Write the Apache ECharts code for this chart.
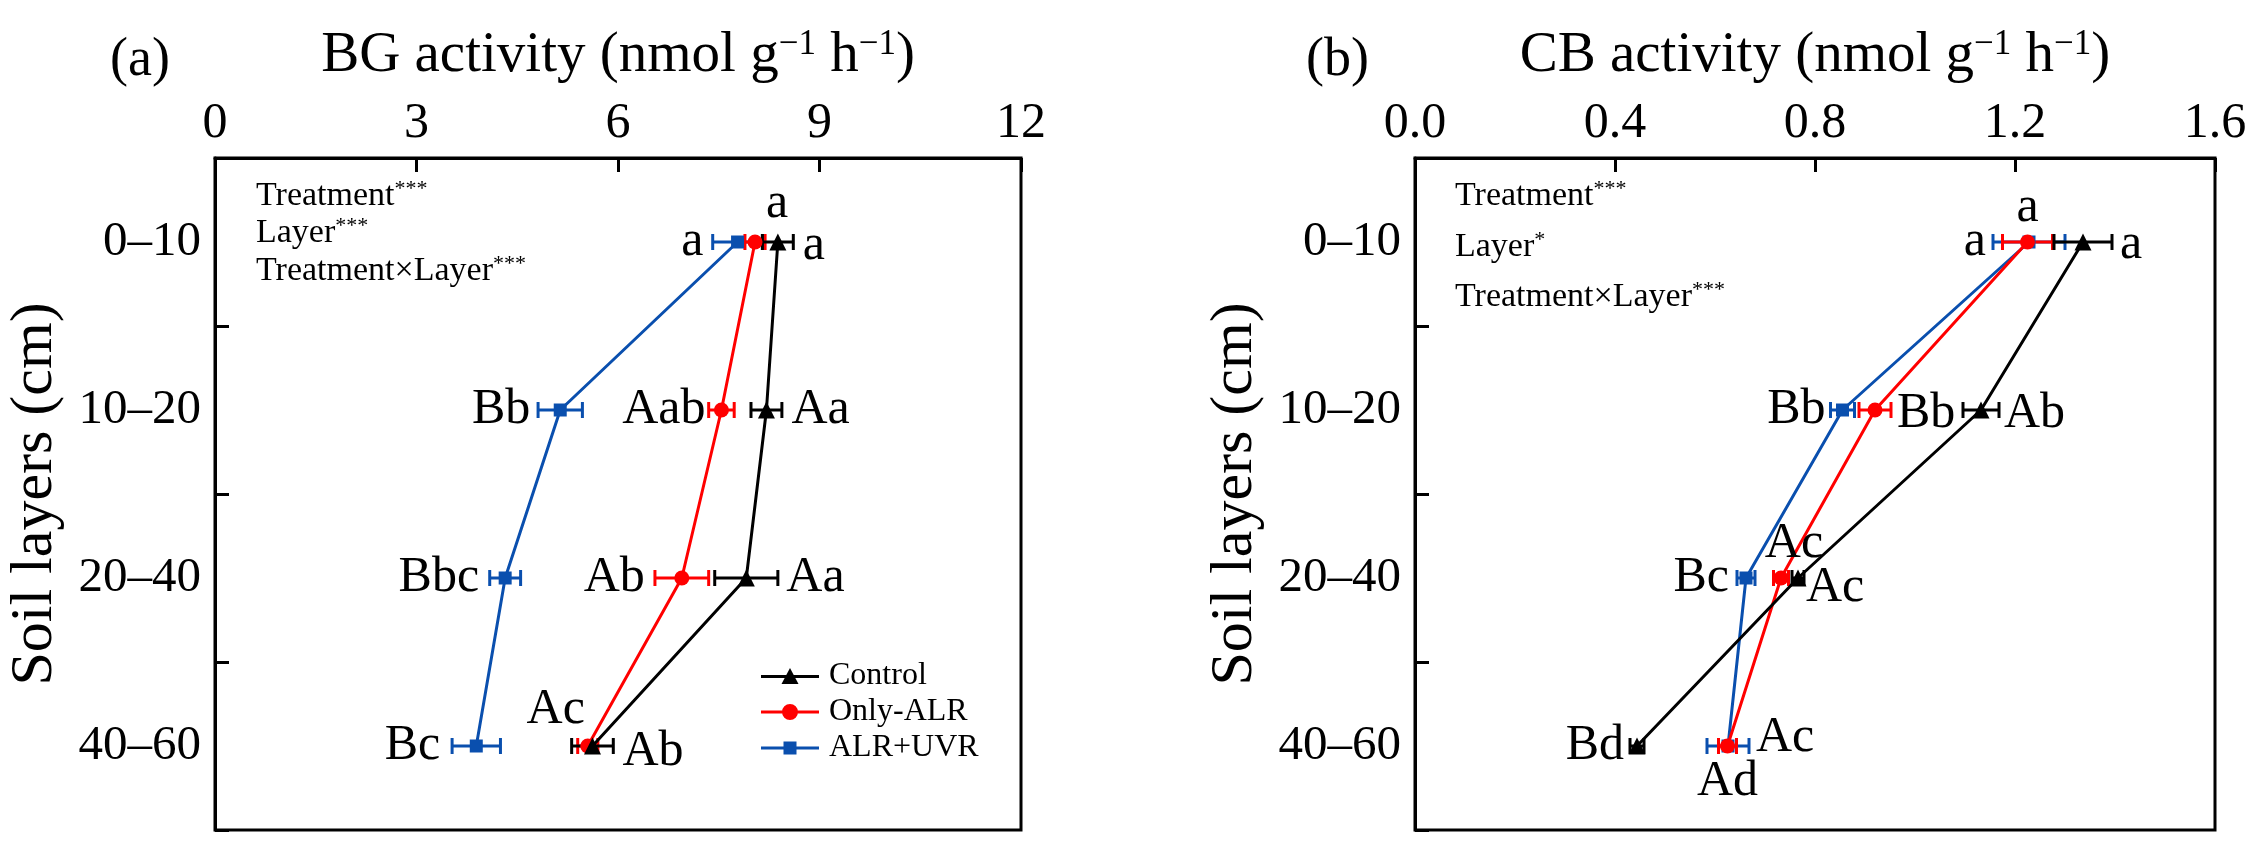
<!DOCTYPE html>
<html>
<head>
<meta charset="utf-8">
<script src="https://cdn.jsdelivr.net/npm/echarts@6/dist/echarts.min.js"></script>
<style>
html,body{margin:0;padding:0;background:#fff;}
#chart{width:2258px;height:846px;}
</style>
</head>
<body>
<div id="chart"></div>
<script>
// ---- data ----
const layers = ['0–10', '10–20', '20–40', '40–60'];
const seriesNames = ['Control', 'Only-ALR', 'ALR+UVR'];

const bgTicks = [0, 3, 6, 9, 12];
const bgControl = [8.38, 8.21, 7.91, 5.62];
const bgControlErr = [0.23, 0.23, 0.47, 0.31];
const bgAlr = [8.04, 7.54, 6.95, 5.55];
const bgAlrErr = [0.15, 0.19, 0.40, 0.15];
const bgUvr = [7.78, 5.14, 4.32, 3.89];
const bgUvrErr = [0.37, 0.33, 0.23, 0.36];

const cbTicks = [0.0, 0.4, 0.8, 1.2, 1.6];
const cbControl = [1.336, 1.132, 0.766, 0.444];
const cbControlErr = [0.058, 0.036, 0.012, 0.014];
const cbAlr = [1.225, 0.920, 0.732, 0.625];
const cbAlrErr = [0.050, 0.032, 0.015, 0.018];
const cbUvr = [1.228, 0.855, 0.662, 0.626];
const cbUvrErr = [0.072, 0.024, 0.018, 0.042];

const bgControlLetters = ['a', 'Aa', 'Aa', 'Ab'];
const bgAlrLetters = ['a', 'Aab', 'Ab', 'Ac'];
const bgUvrLetters = ['a', 'Bb', 'Bbc', 'Bc'];
const cbControlLetters = ['a', 'Ab', 'Ac', 'Bd'];
const cbAlrLetters = ['a', 'Bb', 'Ac', 'Ad'];
const cbUvrLetters = ['a', 'Bb', 'Bc', 'Ac'];

const bgStats = [['Treatment', '***'], ['Layer', '***'], ['Treatment×Layer', '***']];
const cbStats = [['Treatment', '***'], ['Layer', '*'], ['Treatment×Layer', '***']];

// ---- styles / placement (pixels, not data) ----
const FONT = 'Liberation Serif, Times New Roman, serif';
const colors = ['#000000', '#ff0000', '#0a4fae'];
const symbols = ['triangle', 'circle', 'rect'];
const symbolSizes = [17, 15, 13];
const legendIcons = [
  'path://M0,7H58V10H0Z M29,0L37.5,16H20.5Z',
  'path://M0,6.5H58V9.5H0Z M21,8A8,8 0 1,1 37,8A8,8 0 1,1 21,8Z',
  'path://M0,7H58V10H0Z M22.5,2H35.5V15H22.5Z'
];
const bgControlPlace = [[25, 4, 'left'], [25, 0, 'left'], [40, 0, 'left'], [30, 6, 'left']];
const bgAlrPlace = [[22, -38, 'center'], [-16, 0, 'right'], [-37, 0, 'right'], [-32, -36, 'center']];
const bgUvrPlace = [[-34, 0, 'right'], [-30, 0, 'right'], [-26, 0, 'right'], [-36, 0, 'right']];
const cbControlPlace = [[37, 3, 'left'], [23, 4, 'left'], [8, 10, 'left'], [-13, 0, 'right']];
const cbAlrPlace = [[0, -34, 'center'], [22, 4, 'left'], [13, -34, 'center'], [0, 36, 'center']];
const cbUvrPlace = [[-43, 0, 'right'], [-17, 0, 'right'], [-17, 0, 'right'], [28, -8, 'left']];

const grids = [
  {left: 215, top: 158, width: 806, height: 672},
  {left: 1415, top: 158, width: 800, height: 672}
];

const chart = echarts.init(document.getElementById('chart'), null, {renderer: 'canvas'});

function xAxisFor(gi, ticks, fmt, titleMain) {
  return {
    type: 'value', gridIndex: gi, position: 'top',
    min: ticks[0], max: ticks[ticks.length - 1], interval: ticks[1] - ticks[0],
    axisLine: {show: true, lineStyle: {color: '#000', width: 3}},
    axisTick: {show: true, inside: true, length: 14, lineStyle: {color: '#000', width: 3}},
    axisLabel: {show: true, margin: 9, color: '#000', fontFamily: FONT, fontSize: 50, formatter: fmt},
    splitLine: {show: false},
    name: '{t|' + titleMain + ' (nmol g}{s|−1}{t| h}{s|−1}{t|)}',
    nameLocation: 'middle', nameGap: 72,
    nameTextStyle: {
      rich: {
        t: {fontFamily: FONT, fontSize: 57, color: '#000'},
        s: {fontFamily: FONT, fontSize: 35, color: '#000', verticalAlign: 'top', padding: [0, 0, 24, 0]}
      }
    }
  };
}
function yAxisFor(gi) {
  return {
    type: 'category', gridIndex: gi, inverse: true, data: layers,
    boundaryGap: true,
    axisLine: {show: true, lineStyle: {color: '#000', width: 3}},
    axisTick: {show: true, inside: true, length: 14, lineStyle: {color: '#000', width: 3}},
    axisLabel: {show: true, margin: 14, color: '#000', fontFamily: FONT, fontSize: 49},
    splitLine: {show: false},
    name: 'Soil layers (cm)', nameLocation: 'middle', nameGap: 150,
    nameTextStyle: {fontFamily: FONT, fontSize: 60, color: '#000'}
  };
}

function lineSeries(gi, idx, vals) {
  return {
    type: 'line', name: seriesNames[idx], xAxisIndex: gi, yAxisIndex: gi,
    data: vals.map((v, i) => [v, layers[i]]),
    symbol: symbols[idx], symbolSize: symbolSizes[idx], showSymbol: true,
    lineStyle: {color: colors[idx], width: 3},
    itemStyle: {color: colors[idx]},
    z: 5 - idx, animation: false
  };
}
function errSeries(gi, idx, vals, errs) {
  return {
    type: 'custom', xAxisIndex: gi, yAxisIndex: gi,
    data: vals.map((v, i) => [v - errs[i], v + errs[i], i]),
    renderItem: function (params, api) {
      const lo = api.coord([api.value(0), api.value(2)]);
      const hi = api.coord([api.value(1), api.value(2)]);
      const h = 8;
      const st = {stroke: colors[idx], lineWidth: 3};
      return {
        type: 'group', children: [
          {type: 'line', shape: {x1: lo[0], y1: lo[1], x2: hi[0], y2: hi[1]}, style: st},
          {type: 'line', shape: {x1: lo[0], y1: lo[1] - h, x2: lo[0], y2: lo[1] + h}, style: st},
          {type: 'line', shape: {x1: hi[0], y1: hi[1] - h, x2: hi[0], y2: hi[1] + h}, style: st}
        ]
      };
    },
    z: 4 - idx, animation: false, silent: true
  };
}
function letterSeries(gi, vals, letters, place) {
  return {
    type: 'custom', xAxisIndex: gi, yAxisIndex: gi,
    data: vals.map((v, i) => [v, i]),
    renderItem: function (params, api) {
      const i = params.dataIndex;
      const p = api.coord([api.value(0), api.value(1)]);
      const pl = place[i];
      return {
        type: 'text',
        style: {
          text: letters[i], x: p[0] + pl[0], y: p[1] + pl[1],
          align: pl[2], verticalAlign: 'middle',
          fontFamily: FONT, fontSize: 50, fill: '#000'
        }
      };
    },
    z: 10, animation: false, silent: true
  };
}

function statsGraphic(left, tops, stats) {
  return stats.map((s, i) => ({
    type: 'text', left: left, top: tops[i],
    style: {
      text: '{n|' + s[0] + '}{s|' + s[1] + '}',
      rich: {
        n: {fontFamily: FONT, fontSize: 34, fill: '#000'},
        s: {fontFamily: FONT, fontSize: 22, fill: '#000', verticalAlign: 'top', padding: [0, 0, 14, 0]}
      }
    }
  }));
}

const option = {
  backgroundColor: '#fff',
  animation: false,
  grid: grids.map(g => Object.assign({show: true, borderColor: '#000', borderWidth: 3, backgroundColor: 'transparent'}, g)),
  xAxis: [
    xAxisFor(0, bgTicks, v => String(v), 'BG activity'),
    xAxisFor(1, cbTicks, v => v.toFixed(1), 'CB activity')
  ],
  yAxis: [yAxisFor(0), yAxisFor(1)],
  legend: {
    show: true, orient: 'vertical', left: 756, top: 655,
    itemWidth: 58, itemHeight: 16, itemGap: 4,
    symbolKeepAspect: true,
    data: seriesNames.map((n, i) => ({name: n, icon: legendIcons[i], itemStyle: {color: colors[i], borderWidth: 0}})),
    textStyle: {fontFamily: FONT, fontSize: 32, color: '#000', padding: [0, 0, 0, 5]}
  },
  graphic: [
    {type: 'text', left: 110, top: 34, style: {text: '(a)', fontFamily: FONT, fontSize: 54, fill: '#000'}},
    {type: 'text', left: 1306, top: 34, style: {text: '(b)', fontFamily: FONT, fontSize: 54, fill: '#000'}}
  ].concat(statsGraphic(256, [178, 215, 253], bgStats))
   .concat(statsGraphic(1455, [178, 229, 279], cbStats)),
  series: [
    errSeries(0, 0, bgControl, bgControlErr),
    errSeries(0, 1, bgAlr, bgAlrErr),
    errSeries(0, 2, bgUvr, bgUvrErr),
    lineSeries(0, 0, bgControl),
    lineSeries(0, 1, bgAlr),
    lineSeries(0, 2, bgUvr),
    letterSeries(0, bgControl, bgControlLetters, bgControlPlace),
    letterSeries(0, bgAlr, bgAlrLetters, bgAlrPlace),
    letterSeries(0, bgUvr, bgUvrLetters, bgUvrPlace),
    errSeries(1, 0, cbControl, cbControlErr),
    errSeries(1, 1, cbAlr, cbAlrErr),
    errSeries(1, 2, cbUvr, cbUvrErr),
    lineSeries(1, 0, cbControl),
    lineSeries(1, 1, cbAlr),
    lineSeries(1, 2, cbUvr),
    letterSeries(1, cbControl, cbControlLetters, cbControlPlace),
    letterSeries(1, cbAlr, cbAlrLetters, cbAlrPlace),
    letterSeries(1, cbUvr, cbUvrLetters, cbUvrPlace)
  ]
};
chart.setOption(option);
</script>
</body>
</html>
